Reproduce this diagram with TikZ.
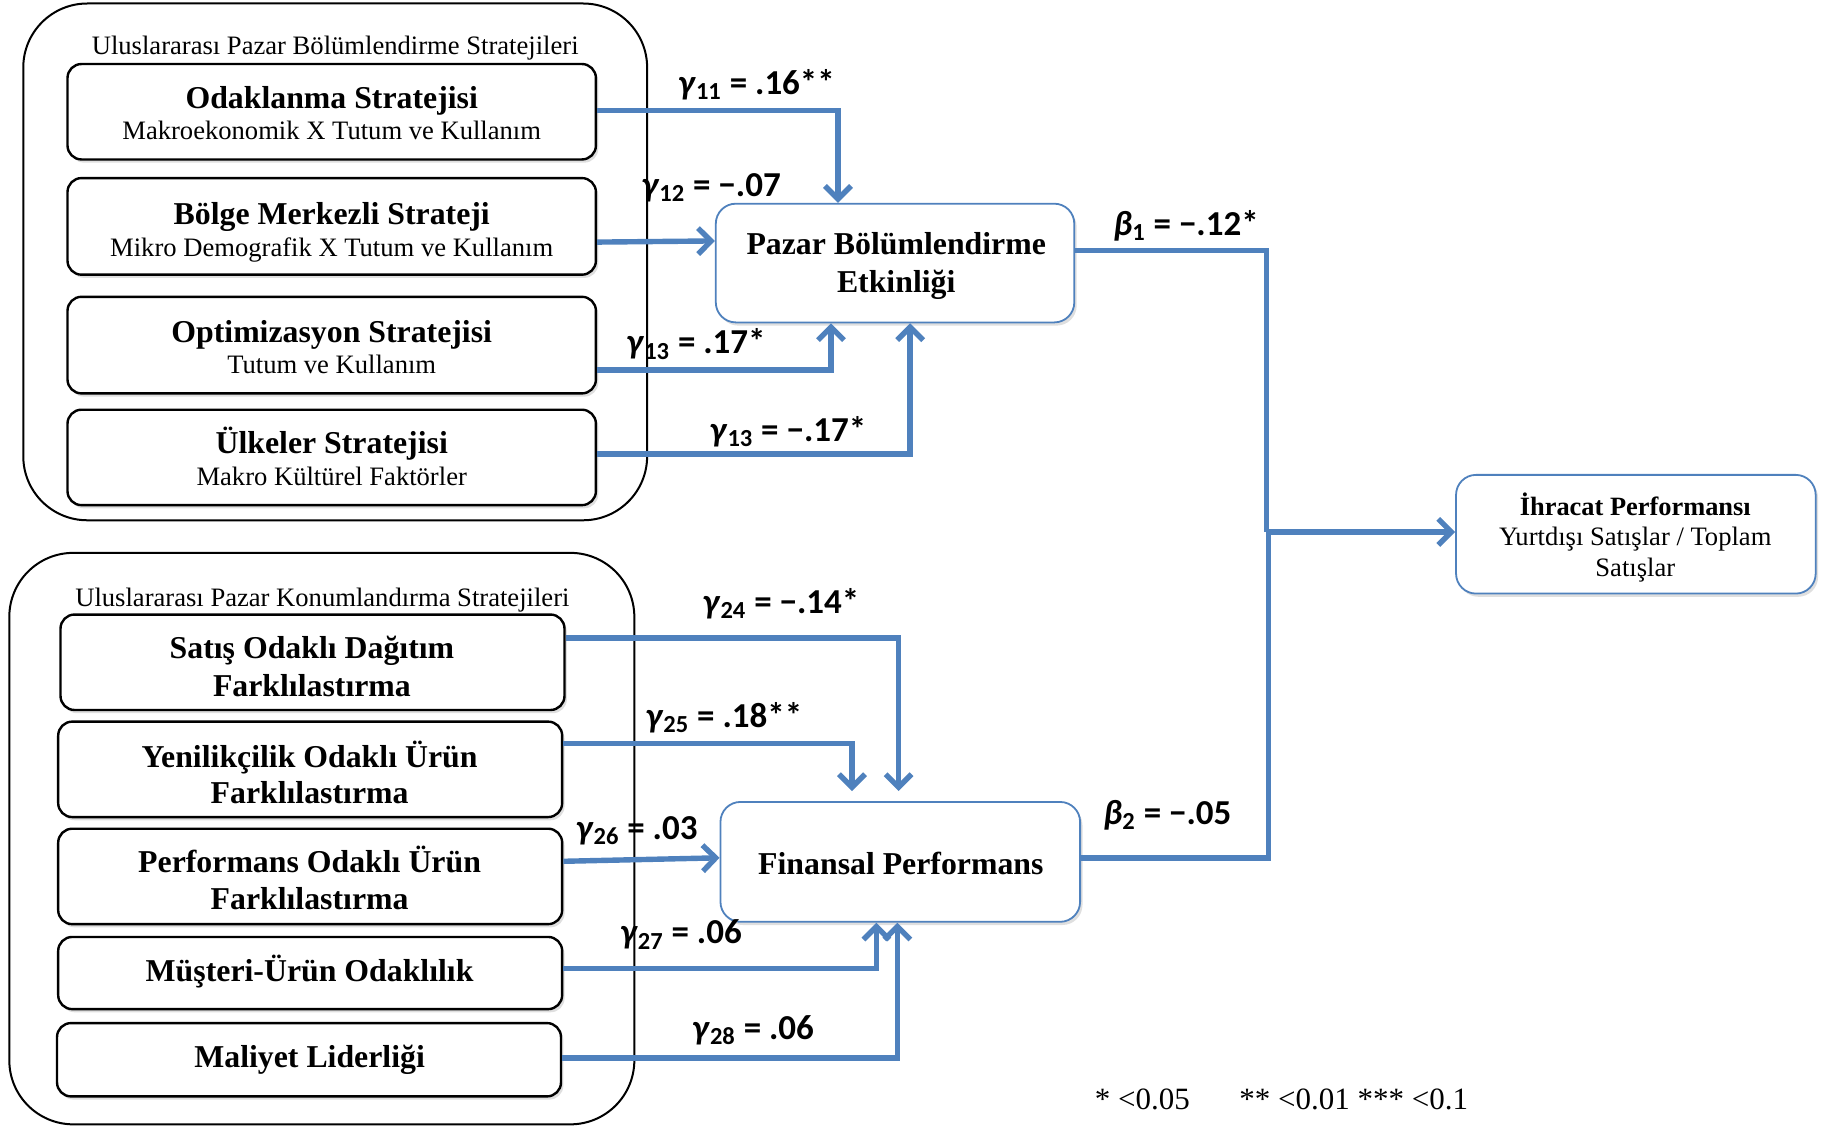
\documentclass[tikz,border=0pt]{standalone}
\usepackage{fontspec}
\setmainfont{Liberation Serif}
\newfontfamily\lblfont{Carlito}
\usetikzlibrary{arrows.meta,shadows,fit}
\definecolor{lineblue}{RGB}{79,129,189}
\newcommand{\coef}[3]{\textit{#1}\textsubscript{#2} = #3}
\begin{document}
\begin{tikzpicture}[x=0.58195pt,y=-0.58195pt,
  grp/.style={draw=black, line width=1pt, rounded corners=32pt, inner sep=0pt},
  inbox/.style={draw=black, line width=1.2pt, rounded corners=7pt, fill=white, inner sep=0pt,
     drop shadow={shadow xshift=1.2pt,shadow yshift=-1.6pt,opacity=0.25}},
  bluebox/.style={draw=lineblue, line width=0.9pt, rounded corners=10pt, fill=white, inner sep=0pt,
     drop shadow={shadow xshift=1.2pt,shadow yshift=-1.6pt,opacity=0.25}},
  ttl/.style={font=\fontsize{15.9}{18}\selectfont\bfseries, inner sep=0pt, anchor=base},
  subt/.style={font=\fontsize{13.3}{15}\selectfont, inner sep=0pt, anchor=base},
  conn/.style={draw=lineblue, line width=2.7pt},
  arr/.style={conn, -{Straight Barb[length=6.5pt,width=13pt]}},
  lbl/.style={font=\lblfont\fontsize{17.5}{20}\selectfont\bfseries, inner sep=0pt, anchor=base}
]
\useasboundingbox (0,0) rectangle (1568,969);

% ---- top group
\node[grp, fit={(20,3) (556,447)}] (g1) {};
\node[subt] (g1t) at (288,47) {Uluslararası Pazar Bölümlendirme Stratejileri};
\node[inbox, fit={(58,55) (512,137)}] (b1) {};
\node[ttl] (b1t) at (285,93) {Odaklanma Stratejisi};
\node[subt] (b1s) at (285,120) {Makroekonomik X Tutum ve Kullanım};
\node[inbox, fit={(58,153) (512,236)}] (b2) {};
\node[ttl] (b2t) at (285,193) {Bölge Merkezli Strateji};
\node[subt] (b2s) at (285,220) {Mikro Demografik X Tutum ve Kullanım};
\node[inbox, fit={(58,255) (512,338)}] (b3) {};
\node[ttl] (b3t) at (285,294) {Optimizasyon Stratejisi};
\node[subt] (b3s) at (285,321) {Tutum ve Kullanım};
\node[inbox, fit={(58,352) (512,434)}] (b4) {};
\node[ttl] (b4t) at (285,390) {Ülkeler Stratejisi};
\node[subt] (b4s) at (285,417) {Makro Kültürel Faktörler};

% ---- bottom group
\node[grp, fit={(8,475) (545,966)}] (g2) {};
\node[subt] (g2t) at (277,521) {Uluslararası Pazar Konumlandırma Stratejileri};
\node[inbox, fit={(52,528) (485,610)}] (c1) {};
\node[ttl] (c1t) at (268,566) {Satış Odaklı Dağıtım};
\node[ttl] (c1s) at (268,598) {Farklılastırma};
\node[inbox, fit={(50,620) (483,702)}] (c2) {};
\node[ttl] (c2t) at (266,659) {Yenilikçilik Odaklı Ürün};
\node[ttl] (c2s) at (266,690) {Farklılastırma};
\node[inbox, fit={(50,712) (483,794)}] (c3) {};
\node[ttl] (c3t) at (266,750) {Performans Odaklı Ürün};
\node[ttl] (c3s) at (266,781) {Farklılastırma};
\node[inbox, fit={(50,805) (483,867)}] (c4) {};
\node[ttl] (c4t) at (266,843) {Müşteri-Ürün Odaklılık};
\node[inbox, fit={(49,879) (482,942)}] (c5) {};
\node[ttl] (c5t) at (266,917) {Maliyet Liderliği};

% ---- mediators and outcome
\node[bluebox, fit={(615,175) (923,277)}] (pbe) {};
\node[ttl] (pbet) at (770,219) {Pazar Bölümlendirme};
\node[ttl] (pbes) at (770,251) {Etkinliği};
\node[bluebox, fit={(619,689) (928,792)}] (fp) {};
\node[ttl] (fpt) at (774,751) {Finansal Performans};
\node[bluebox, fit={(1251,408) (1560,510)}] (ihr) {};
\node[ttl, font=\fontsize{13.2}{15}\selectfont\bfseries] (ihrt) at (1405,443) {İhracat Performansı};
\node[subt] (ihrs) at (1405,469) {Yurtdışı Satışlar / Toplam};
\node[subt] (ihru) at (1405,495) {Satışlar};

% ---- connectors
\draw[arr] (b1.east |- 0,95) -- (720,95) -- (pbe.north -| 720,0);
\draw[arr] (b2.east |- 0,208) -- (pbe.west |- 0,207);
\draw[arr] (b3.east |- 0,318) -- (714,318) -- (pbe.south -| 714,0);
\draw[arr] (b4.east |- 0,390) -- (782,390) -- (pbe.south -| 782,0);
\draw[conn] (pbe.east |- 0,215) -- (1088,215) -- (1088,457) coordinate (jn);
\draw[conn] (fp.east |- 0,737) -- (1090,737) -- (1090,457);
\draw[arr] (jn) -- (ihr.west |- jn);

\draw[arr, shorten >=5pt] (c1.east |- 0,548) -- (772,548) -- (fp.north -| 772,0);
\draw[arr, shorten >=5pt] (c2.east |- 0,639) -- (732,639) -- (fp.north -| 732,0);
\draw[arr] (c3.east |- 0,740) -- (fp.west |- 0,737);
\draw[arr] (c4.east |- 0,832) -- (753,832) -- (fp.south -| 753,0);
\draw[arr] (c5.east |- 0,909) -- (771,909) -- (fp.south -| 771,0);

% ---- coefficient labels
\node[lbl] (l11) at (650,81) {\coef{γ}{11}{.16**}};
\node[lbl] (l12) at (611,169) {\coef{γ}{12}{−.07}};
\node[lbl] (l13) at (598,304) {\coef{γ}{13}{.17*}};
\node[lbl] (l14) at (677,379) {\coef{γ}{13}{−.17*}};
\node[lbl] (lb1) at (1019,202) {\coef{β}{1}{−.12*}};
\node[lbl] (l24) at (671,527) {\coef{γ}{24}{−.14*}};
\node[lbl] (l25) at (622,625) {\coef{γ}{25}{.18**}};
\node[lbl] (l26) at (547,721) {\coef{γ}{26}{.03}};
\node[lbl] (l27) at (585,811) {\coef{γ}{27}{.06}};
\node[lbl] (l28) at (647,893) {\coef{γ}{28}{.06}};
\node[lbl] (lb2) at (1003,708) {\coef{β}{2}{−.05}};

% ---- legend
\node[inner sep=0pt, anchor=base, font=\fontsize{15.5}{18}\selectfont] (leg) at (1101,953) {* <0.05\hspace{1.6em}** <0.01 *** <0.1};
\end{tikzpicture}
\end{document}
